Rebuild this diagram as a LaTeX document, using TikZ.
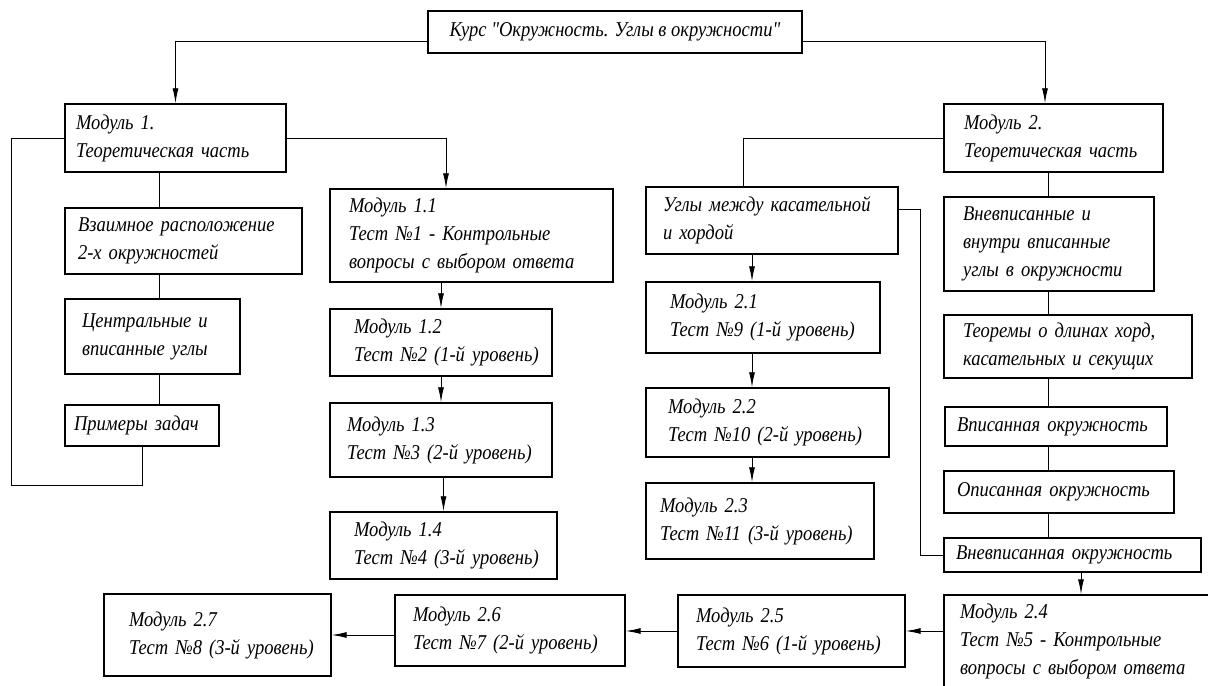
\documentclass[tikz,border=0pt]{standalone}
\usepackage{fontspec}
\setmainfont{Liberation Serif}[FakeStretch=0.88, Ligatures=TeXOff]
\usetikzlibrary{arrows.meta}
\tikzset{
  box/.style={draw=black, line width=0.85pt, inner xsep=0pt, inner ysep=2pt, align=left,
    font=\itshape\fontsize{12}{15.9}\selectfont},
  blk/.style n args={3}{box, text width=#1, minimum height=#2, execute at begin node={\leftskip=#3}},
  arr/.style={-{Latex[length=3mm,width=1.2mm]}, line width=0.55pt},
  ln/.style={line width=0.55pt}
}
\begin{document}
\begin{tikzpicture}[x=0.02cm,y=-0.02cm]
	\useasboundingbox (0,0) rectangle (1208,686);

	\node[box, align=center, minimum width=7.48cm, minimum height=0.84cm] (kurs) at (615,32) {Курс "Окружность. Углы в окружности"};

	\node[blk={4.42cm}{1.36cm}{0.22cm}] (m1) at (175.5,138) {Модуль 1.\\Теоретическая часть};
	\node[blk={4.74cm}{1.32cm}{0.26cm}] (vz) at (183.5,241) {Взаимное расположение\\2-х окружностей};
	\node[blk={3.50cm}{1.50cm}{0.34cm}] (cu) at (152.5,336.5) {Центральные и\\вписанные углы};
	\node[blk={3.08cm}{0.82cm}{0.18cm}] (pz) at (142,425.5) {Примеры задач};

	\node[blk={5.66cm}{1.86cm}{0.38cm}] (m11) at (471.5,235.5) {Модуль 1.1\\Тест №1 - Контрольные\\вопросы с выбором ответа};
	\node[blk={4.44cm}{1.34cm}{0.48cm}] (m12) at (441,342.5) {Модуль 1.2\\Тест №2 (1-й уровень)};
	\node[blk={4.44cm}{1.48cm}{0.34cm}] (m13) at (441,440) {Модуль 1.3\\Тест №3 (2-й уровень)};
	\node[blk={4.54cm}{1.34cm}{0.48cm}] (m14) at (443.5,545.5) {Модуль 1.4\\Тест №4 (3-й уровень)};

	\node[blk={5.04cm}{1.34cm}{0.34cm}] (ug) at (772,220.5) {Углы между касательной\\и хордой};
	\node[blk={4.68cm}{1.42cm}{0.48cm}] (m21) at (763,317.5) {Модуль 2.1\\Тест №9 (1-й уровень)};
	\node[blk={4.86cm}{1.38cm}{0.44cm}] (m22) at (767.5,422.5) {Модуль 2.2\\Тест №10 (2-й уровень)};
	\node[blk={4.56cm}{1.52cm}{0.28cm}] (m23) at (760,521) {Модуль 2.3\\Тест №11 (3-й уровень)};

	\node[blk={4.38cm}{1.36cm}{0.40cm}] (m2) at (1053.5,138) {Модуль 2.\\Теоретическая часть};
	\node[blk={4.20cm}{1.88cm}{0.38cm}] (vv) at (1049,244) {Вневписанные и\\внутри вписанные\\углы в окружности};
	\node[blk={4.96cm}{1.26cm}{0.38cm}] (th) at (1068,346.5) {Теоремы о длинах хорд,\\касательных и секущих};
	\node[blk={4.44cm}{0.78cm}{0.24cm}] (vp) at (1056,426.5) {Вписанная окружность};
	\node[blk={4.60cm}{0.84cm}{0.26cm}] (op) at (1059,492) {Описанная окружность};
	\node[blk={5.14cm}{0.68cm}{0.24cm}] (vo) at (1072.5,555) {Вневписанная окружность};

	\node[blk={5.92cm}{1.84cm}{0.32cm}] (m24) at (1092,641) {Модуль 2.4\\Тест №5 - Контрольные\\вопросы с выбором ответа};
	\node[blk={4.54cm}{1.44cm}{0.36cm}] (m25) at (791.5,631) {Модуль 2.5\\Тест №6 (1-й уровень)};
	\node[blk={4.60cm}{1.42cm}{0.36cm}] (m26) at (510,630.5) {Модуль 2.6\\Тест №7 (2-й уровень)};
	\node[blk={4.54cm}{1.64cm}{0.50cm}] (m27) at (217.5,635) {Модуль 2.7\\Тест №8 (3-й уровень)};

	\draw[arr] (kurs.south west) ++(0,-12) -| (m1.north);
	\draw[arr] (kurs.south east) ++(0,-12) -| ([xshift=-0.17cm]m2.north);

	\draw[ln] (m1.west) -| ++(-53,347) -| (pz.south);
	\draw[arr] (m1.east) -| ([xshift=-0.51cm]m11.north);
	\draw[ln] ([xshift=-0.33cm]m1.south) coordinate (s1) -- (s1 |- vz.north)
		(s1 |- vz.south) -- (s1 |- cu.north) (s1 |- cu.south) -- (s1 |- pz.north);
	\draw[arr] (m12.north |- m11.south) -- (m12.north);
	\draw[arr] (m12.south) -- (m13.north);
	\draw[arr] (m14.north |- m13.south) -- (m14.north);

	\draw[ln] (m2.west) -| ([xshift=-0.58cm]ug.north);
	\draw[ln] ([yshift=0.23cm]ug.east) -- ++(22,0) |- (vo.west);
	\draw[arr] ([xshift=-0.4cm]ug.south) coordinate (t1) -- (t1 |- m21.north);
	\draw[arr] (t1 |- m21.south) -- (t1 |- m22.north);
	\draw[arr] (t1 |- m22.south) -- (t1 |- m23.north);

	\draw[ln] ([xshift=-0.11cm]m2.south) coordinate (s2) -- (s2 |- vv.north)
		(s2 |- vv.south) -- (s2 |- th.north) (s2 |- th.south) -- (s2 |- vp.north)
		(s2 |- vp.south) -- (s2 |- op.north) (s2 |- op.south) -- (s2 |- vo.north);

	\draw[arr] ([xshift=0.17cm]vo.south) coordinate (u1) -- (u1 |- m24.north);
	\draw[arr] (m24.west |- m25.east) -- (m25.east);
	\draw[arr] (m25.west) -- (m25.west -| m26.east);
	\draw[arr] (m26.west |- m27.east) -- (m27.east);
\end{tikzpicture}
\end{document}
